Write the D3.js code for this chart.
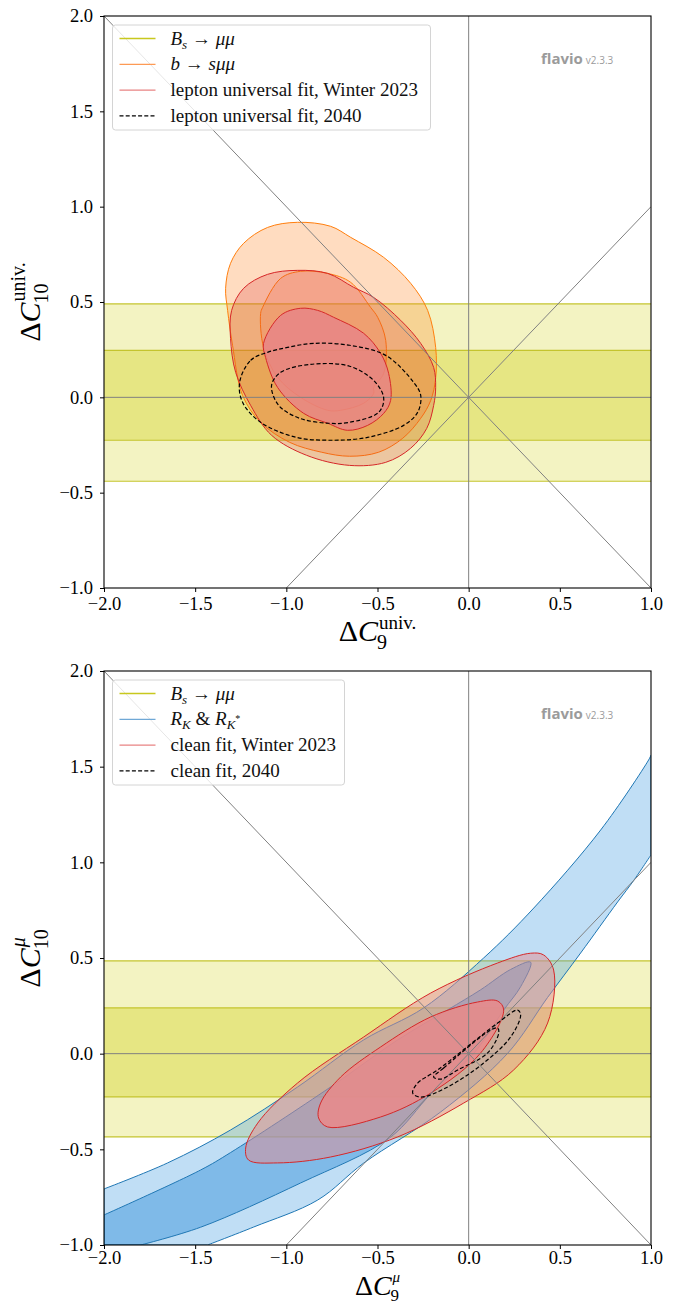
<!DOCTYPE html>
<html>
<head>
<meta charset="utf-8">
<script src="https://cdn.jsdelivr.net/npm/d3@7"></script>
<style>
  body { margin: 0; background: #fff; }
  text { font-family: "Liberation Serif", "DejaVu Serif", serif; }
</style>
</head>
<body>
<div id="chart"></div>
<script>
const xTicks = [-2, -1.5, -1, -0.5, 0, 0.5, 1];
const yTicks = [-1, -0.5, 0, 0.5, 1, 1.5, 2];

// Bs -> mumu band, [low, high] for 1 sigma and 2 sigma
const bsInnerTop = [-0.225, 0.246];
const bsOuterTop = [-0.44, 0.49];
const bsInnerBottom = [-0.226, 0.239];
const bsOuterBottom = [-0.435, 0.485];

// top panel: b -> s mu mu
const bsmmOuter = [[-0.938, 0.918], [-0.757, 0.897], [-0.647, 0.839], [-0.466, 0.734], [-0.318, 0.598], [-0.225, 0.456], [-0.181, 0.262], [-0.181, 0.100], [-0.208, -0.016], [-0.263, -0.110], [-0.362, -0.215], [-0.494, -0.288], [-0.653, -0.309], [-0.806, -0.288], [-0.982, -0.236], [-1.141, -0.131], [-1.240, 0.010], [-1.295, 0.273], [-1.322, 0.456], [-1.333, 0.572], [-1.306, 0.703], [-1.234, 0.808], [-1.103, 0.891]];
const bsmmInner = [[-1.130, 0.472], [-1.031, 0.624], [-0.922, 0.661], [-0.773, 0.650], [-0.647, 0.603], [-0.538, 0.472], [-0.499, 0.420], [-0.455, 0.299], [-0.466, 0.126], [-0.521, 0.052], [-0.521, 0.021], [-0.576, -0.031], [-0.702, -0.068], [-0.773, -0.068], [-0.922, 0.000], [-1.048, 0.105], [-1.125, 0.262], [-1.141, 0.440]];

// top panel: lepton universal fit, Winter 2023
const lufOuter = [[-0.938, 0.666], [-0.773, 0.650], [-0.631, 0.577], [-0.521, 0.524], [-0.373, 0.404], [-0.263, 0.283], [-0.192, 0.157], [-0.181, 0.052], [-0.192, -0.042], [-0.230, -0.163], [-0.318, -0.267], [-0.455, -0.341], [-0.653, -0.357], [-0.889, -0.304], [-1.081, -0.199], [-1.196, -0.042], [-1.278, 0.131], [-1.306, 0.309], [-1.300, 0.456], [-1.234, 0.572], [-1.103, 0.645]];
const lufInner = [[-0.922, 0.467], [-1.031, 0.430], [-1.125, 0.283], [-1.114, 0.210], [-1.048, 0.052], [-0.905, -0.084], [-0.773, -0.136], [-0.664, -0.173], [-0.554, -0.147], [-0.466, -0.084], [-0.428, -0.016], [-0.439, 0.126], [-0.483, 0.231], [-0.576, 0.336], [-0.741, 0.420], [-0.828, 0.456]];

// top panel: lepton universal fit, 2040
const luf2040Outer = [[-1.256, 0.079], [-1.196, 0.194], [-1.103, 0.236], [-0.993, 0.262], [-0.850, 0.283], [-0.653, 0.273], [-0.455, 0.220], [-0.302, 0.079], [-0.263, 0.010], [-0.280, -0.079], [-0.357, -0.147], [-0.554, -0.210], [-0.752, -0.225], [-0.944, -0.210], [-1.141, -0.131], [-1.240, -0.026]];
const luf2040Inner = [[-1.081, 0.063], [-1.031, 0.131], [-0.867, 0.173], [-0.653, 0.163], [-0.516, 0.084], [-0.466, -0.005], [-0.494, -0.079], [-0.653, -0.131], [-0.768, -0.136], [-0.927, -0.110], [-1.042, -0.042]];

// bottom panel: R_K & R_K* band (2 sigma edges, open at the frame)
const rkOuterUpper = [[-2.0, -0.707], [-1.651, -0.571], [-1.306, -0.399], [-0.938, -0.174], [-0.576, 0.072], [-0.247, 0.239], [0.082, 0.500], [0.357, 0.761], [0.724, 1.169], [0.987, 1.535], [1.0, 1.560]];
const rkOuterLower = [[1.0, 1.039], [0.905, 0.905], [0.817, 0.793], [0.614, 0.526], [0.433, 0.294], [0.212, 0.0], [-0.154, -0.305], [-0.576, -0.572], [-0.828, -0.765], [-1.179, -0.906], [-1.432, -1.0]];
// 1 sigma region, from the left edge round the tip to the bottom edge
const rkInner = [[-2.0, -0.843], [-1.470, -0.608], [-1.306, -0.517], [-0.757, -0.174], [-0.389, 0.072], [-0.115, 0.229], [0.066, 0.334], [0.230, 0.440], [0.340, 0.478], [0.285, 0.350], [0.192, 0.228], [0.027, 0.0], [-0.208, -0.211], [-0.433, -0.440], [-0.922, -0.676], [-1.470, -0.907], [-1.799, -1.0]];

// bottom panel: clean fit, Winter 2023
const cleanOuter = [[-1.223, -0.493], [-1.207, -0.556], [-1.048, -0.571], [-0.757, -0.540], [-0.389, -0.435], [-0.027, -0.258], [0.247, -0.085], [0.433, 0.160], [0.466, 0.437], [0.411, 0.516], [0.340, 0.525], [0.159, 0.474], [-0.208, 0.317], [-0.576, 0.087], [-0.938, -0.153], [-1.157, -0.363]];
const cleanInner = [[-0.823, -0.336], [-0.774, -0.383], [-0.483, -0.331], [-0.208, -0.206], [0.066, 0.004], [0.192, 0.228], [0.159, 0.275], [0.049, 0.270], [-0.208, 0.192], [-0.483, 0.035], [-0.702, -0.122], [-0.812, -0.258]];

// bottom panel: clean fit, 2040
const clean2040Outer = [[-0.307, -0.206], [-0.280, -0.154], [-0.170, -0.085], [0.159, 0.160], [0.269, 0.228], [0.285, 0.202], [0.230, 0.087], [0.082, -0.049], [-0.115, -0.174], [-0.263, -0.227]];
const clean2040Inner = [[-0.192, -0.122], [-0.137, -0.075], [0.121, 0.124], [0.159, 0.134], [0.165, 0.108], [0.104, 0.004], [-0.060, -0.085], [-0.154, -0.133]];

const W = 674, H = 1305;
const LEFT = 104, RIGHT = 651;

const svg = d3.select("#chart").append("svg")
    .attr("width", W)
    .attr("height", H);

const OLIVE = "#c4c42e", ORANGE = "#ff7f0e", RED = "#d62728", BLUE = "#1f77b4";

function drawPanel(p) {
    let x = d3.scaleLinear().domain([-2, 1]).range([LEFT, RIGHT]);
    let y = d3.scaleLinear().domain([-1, 2]).range([p.bottom, p.top]);

    let g = svg.append("g");
    g.append("clipPath").attr("id", p.id)
        .append("rect")
        .attr("x", LEFT).attr("y", p.top)
        .attr("width", RIGHT - LEFT).attr("height", p.bottom - p.top);

    let plot = g.append("g").attr("clip-path", "url(#" + p.id + ")");

    // Bs -> mu mu band
    plot.append("rect")
        .attr("x", LEFT).attr("width", RIGHT - LEFT)
        .attr("y", y(p.bsOuter[1])).attr("height", y(p.bsOuter[0]) - y(p.bsOuter[1]))
        .attr("fill", "#f3f3c2");
    plot.append("rect")
        .attr("x", LEFT).attr("width", RIGHT - LEFT)
        .attr("y", y(p.bsInner[1])).attr("height", y(p.bsInner[0]) - y(p.bsInner[1]))
        .attr("fill", "#e6e683");
    plot.selectAll("line.bs")
        .data(p.bsOuter.concat(p.bsInner))
        .join("line")
        .attr("class", "bs")
        .attr("x1", LEFT).attr("x2", RIGHT)
        .attr("y1", d => y(d)).attr("y2", d => y(d))
        .attr("stroke", OLIVE).attr("stroke-width", 1.2);

    let closed = d3.line().x(d => x(d[0])).y(d => y(d[1])).curve(d3.curveCatmullRomClosed.alpha(0.5));
    let open = d3.line().x(d => x(d[0])).y(d => y(d[1])).curve(d3.curveCatmullRom.alpha(0.5));

    // filled contour: ring between 2 sigma and 1 sigma, then 1 sigma core
    function region(outerD, innerD, ringFill, coreFill, stroke) {
        plot.append("path").attr("d", outerD + innerD)
            .attr("fill", ringFill).attr("fill-rule", "evenodd").attr("stroke", "none");
        plot.append("path").attr("d", innerD)
            .attr("fill", coreFill).attr("stroke", "none");
        plot.append("path").attr("d", outerD + innerD)
            .attr("fill", "none").attr("stroke", stroke).attr("stroke-width", 1);
    }

    p.regions.forEach(function (r) {
        let outerD, innerD;
        if (r.band) {
            outerD = open(r.outer[0]) + open(r.outer[1]).replace("M", "L") +
                "L" + x(-2) + "," + y(-1) + "Z";
            innerD = "M" + x(-2) + "," + y(-1) + open(r.inner).replace("M", "L") + "Z";
        } else {
            outerD = closed(r.outer);
            innerD = closed(r.inner);
        }
        region(outerD, innerD, r.ring, r.core, r.stroke);
    });

    // reference lines
    let guides = [[[-2, 0], [1, 0]], [[0, -1], [0, 2]], [[-2, 2], [1, -1]], [[-1, -1], [1, 1]]];
    plot.selectAll("line.guide")
        .data(guides)
        .join("line")
        .attr("class", "guide")
        .attr("x1", d => x(d[0][0])).attr("y1", d => y(d[0][1]))
        .attr("x2", d => x(d[1][0])).attr("y2", d => y(d[1][1]))
        .attr("stroke", "#808080").attr("stroke-width", 1);

    // 2040 projections, dashed
    [p.dashed[0], p.dashed[1]].forEach(function (c) {
        plot.append("path").attr("d", closed(c))
            .attr("fill", "none").attr("stroke", "#000")
            .attr("stroke-width", 1.2).attr("stroke-dasharray", "4,2.2");
    });

    // axes
    let fmt = d => d3.format(".1f")(d).replace("-", "\u2212");
    let xAxis = d3.axisBottom(x).tickValues(xTicks).tickSize(4).tickPadding(p.xPad).tickFormat(fmt);
    let yAxis = d3.axisLeft(y).tickValues(yTicks).tickSize(4).tickPadding(7).tickFormat(fmt);

    let gx = g.append("g").attr("transform", "translate(0," + p.bottom + ")").call(xAxis);
    let gy = g.append("g").attr("transform", "translate(" + LEFT + ",0)").call(yAxis);
    [gx, gy].forEach(function (a) {
        a.select(".domain").remove();
        a.selectAll("text").attr("font-family", "Liberation Serif").attr("font-size", 18.5).attr("fill", "#000");
        a.selectAll("line").attr("stroke", "#000");
    });

    g.append("rect")
        .attr("x", LEFT).attr("y", p.top)
        .attr("width", RIGHT - LEFT).attr("height", p.bottom - p.top)
        .attr("fill", "none").attr("stroke", "#000").attr("stroke-width", 1.1);

    // axis labels
    mathLabel(g, (LEFT + RIGHT) / 2, p.bottom + p.xLabel.gap, 0, p.xSub, p.sup, p.xLabel);
    mathLabel(g, 40, (p.top + p.bottom) / 2, -90, p.ySub, p.sup,
        { size: 30, subSize: 20, subDy: 8, supDy: -15, supSize: 20 });

    // flavio watermark
    let wm = g.append("text").attr("x", 541).attr("y", p.top + 48)
        .attr("fill", "#9b9b9b");
    wm.append("tspan").attr("font-family", "Open Sans").attr("font-weight", 700)
        .attr("font-size", 15).text("flavio");
    wm.append("tspan").attr("font-family", "Open Sans").attr("font-size", 10)
        .attr("dx", 3).text("v2.3.3");

    // legend
    let lg = g.append("g").attr("transform", "translate(112.5," + (p.top + 9) + ")");
    lg.append("rect")
        .attr("width", p.legendWidth).attr("height", 105)
        .attr("rx", 3)
        .attr("fill", "#fff").attr("fill-opacity", 0.8)
        .attr("stroke", "#d4d4d4").attr("stroke-width", 1);
    p.legend.forEach(function (e, i) {
        let yy = 13.5 + i * 25.8;
        lg.append("line")
            .attr("x1", 7).attr("x2", 43).attr("y1", yy).attr("y2", yy)
            .attr("stroke", e.color).attr("stroke-width", e.dash ? 1.2 : 1.3)
            .attr("stroke-dasharray", e.dash ? "4,2.2" : null);
        let t = lg.append("text").attr("x", 58).attr("y", yy + 6)
            .attr("font-size", 19).attr("fill", "#111");
        let shift = 0;
        e.parts.forEach(function (s) {
            let ts = t.append("tspan").text(s.t);
            if (s.i) ts.attr("font-style", "italic");
            let want = s.sub ? 4 : (s.star ? -3 : 0);
            if (want !== shift) { ts.attr("dy", want - shift); shift = want; }
            if (s.sub) ts.attr("font-size", 13);
            if (s.star) ts.attr("font-size", 10);
        });
    });
}

// Delta C with stacked sub/superscript, as one text element
function mathLabel(g, cx, cy, rot, sub, sup, o) {
    let lab = g.append("g").attr("transform", "translate(" + cx + "," + cy + ") rotate(" + rot + ")");
    let t = lab.append("text").attr("x", 0).attr("y", 0).attr("font-size", o.size).attr("fill", "#000");
    t.append("tspan").text("\u0394");
    t.append("tspan").attr("font-style", "italic").text("C");
    let w = t.node().getComputedTextLength();
    let tSub = t.append("tspan").attr("x", w - 1).attr("dy", o.subDy)
        .attr("font-size", o.subSize).attr("font-style", "normal").text(sub);
    let subW = tSub.node().getComputedTextLength();
    let tSup = t.append("tspan").attr("x", w + 1).attr("dy", o.supDy - o.subDy)
        .attr("font-size", o.supSize).text(sup.t);
    if (sup.i) tSup.attr("font-style", "italic");
    let supW = tSup.node().getComputedTextLength();
    let total = w + Math.max(subW, supW + 1);
    t.attr("transform", "translate(" + (-total / 2) + ",0)");
}

drawPanel({
    id: "clipTop", top: 16, bottom: 588, xPad: 5,
    xLabel: { gap: 53, size: 30, subSize: 20, subDy: 8, supDy: -12, supSize: 19 },
    bsInner: bsInnerTop, bsOuter: bsOuterTop,
    regions: [
        { outer: bsmmOuter, inner: bsmmInner, ring: "rgba(255,130,30,0.28)", core: "rgba(250,130,60,0.45)", stroke: ORANGE },
        { outer: lufOuter, inner: lufInner, ring: "rgba(214,39,40,0.22)", core: "rgba(230,128,130,0.86)", stroke: RED }
    ],
    dashed: [luf2040Outer, luf2040Inner],
    xSub: "9", ySub: "10", sup: { t: "univ.", i: false },
    legendWidth: 318,
    legend: [
        { color: "#c8c81e", parts: [{ t: "B", i: true }, { t: "s", i: true, sub: true }, { t: " \u2192 " }, { t: "\u03bc\u03bc", i: true }] },
        { color: "#fd9a55", parts: [{ t: "b", i: true }, { t: " \u2192 " }, { t: "s\u03bc\u03bc", i: true }] },
        { color: "#e88383", parts: [{ t: "lepton universal fit, Winter 2023" }] },
        { color: "#000", dash: true, parts: [{ t: "lepton universal fit, 2040" }] }
    ]
});

drawPanel({
    id: "clipBottom", top: 671, bottom: 1245, xPad: 2,
    xLabel: { gap: 50, size: 28, subSize: 17, subDy: 6, supDy: -13.5, supSize: 15 },
    bsInner: bsInnerBottom, bsOuter: bsOuterBottom,
    regions: [
        { band: true, outer: [rkOuterUpper, rkOuterLower], inner: rkInner, ring: "rgba(75,160,225,0.35)", core: "rgba(60,150,220,0.66)", stroke: BLUE },
        { outer: cleanOuter, inner: cleanInner, ring: "rgba(228,140,145,0.5)", core: "rgba(233,138,138,0.92)", stroke: RED }
    ],
    dashed: [clean2040Outer, clean2040Inner],
    xSub: "9", ySub: "10", sup: { t: "\u03bc", i: true },
    legendWidth: 232,
    legend: [
        { color: "#c8c81e", parts: [{ t: "B", i: true }, { t: "s", i: true, sub: true }, { t: " \u2192 " }, { t: "\u03bc\u03bc", i: true }] },
        { color: "#6fa8d6", parts: [{ t: "R", i: true }, { t: "K", i: true, sub: true }, { t: " & " }, { t: "R", i: true }, { t: "K", i: true, sub: true }, { t: "*", star: true }] },
        { color: "#e88383", parts: [{ t: "clean fit, Winter 2023" }] },
        { color: "#000", dash: true, parts: [{ t: "clean fit, 2040" }] }
    ]
});
</script>
</body>
</html>
